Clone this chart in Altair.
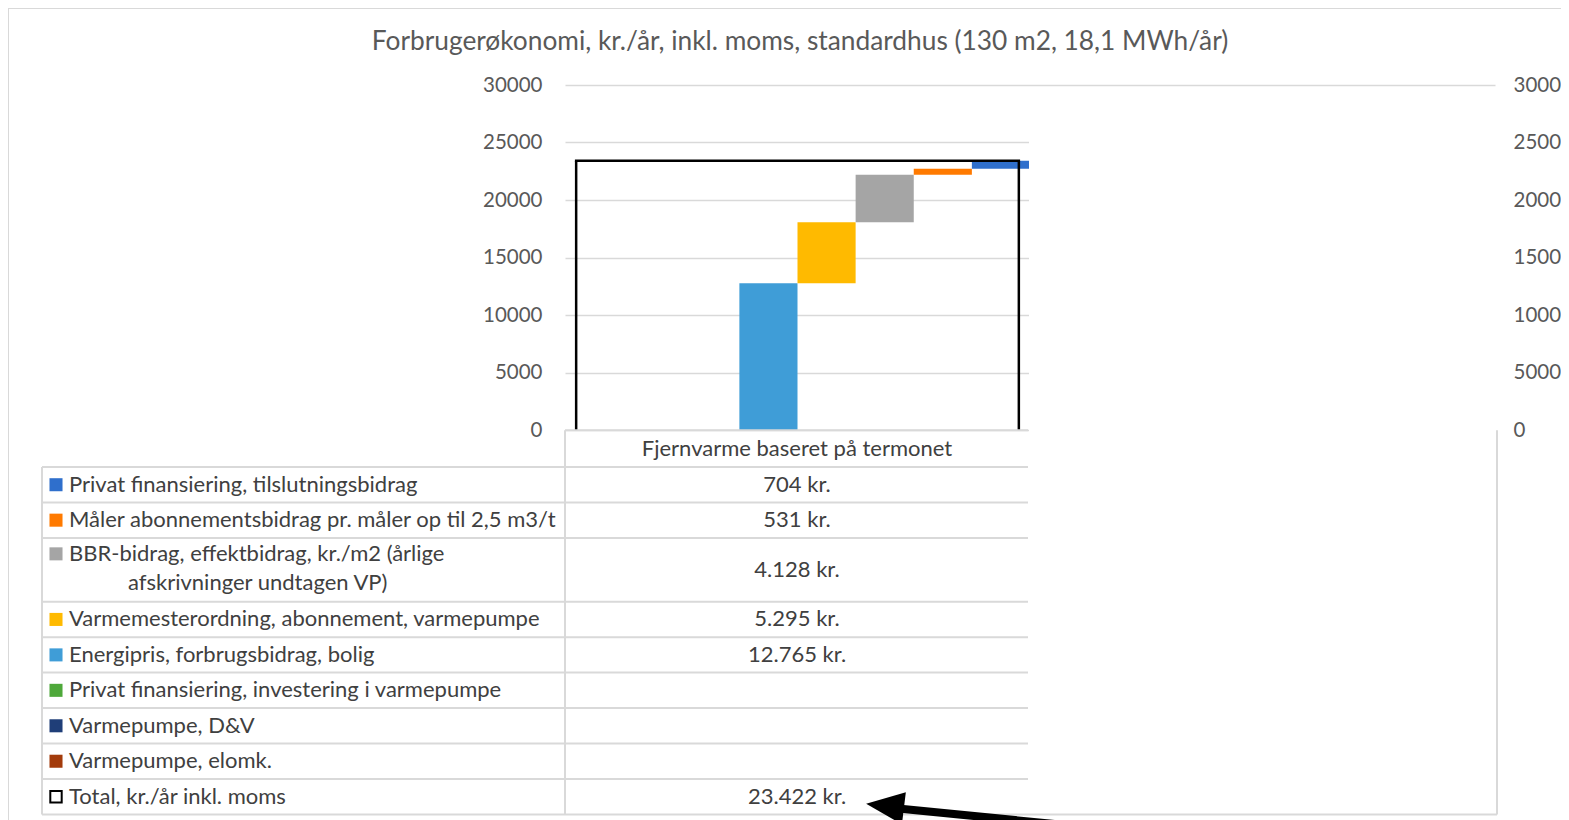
import altair as alt
import pandas as pd

# ---------------- data ----------------
chart_title = "Forbrugerøkonomi, kr./år, inkl. moms, standardhus (130 m2, 18,1 MWh/år)"
category = "Fjernvarme baseret på termonet"

series = [
    "Privat finansiering, tilslutningsbidrag",
    "Måler abonnementsbidrag pr. måler op til 2,5 m3/t",
    "BBR-bidrag, effektbidrag, kr./m2 (årlige afskrivninger undtagen VP)",
    "Varmemesterordning, abonnement, varmepumpe",
    "Energipris, forbrugsbidrag, bolig",
    "Privat finansiering, investering i varmepumpe",
    "Varmepumpe, D&V",
    "Varmepumpe, elomk.",
]
label_line1 = [
    "Privat finansiering, tilslutningsbidrag",
    "Måler abonnementsbidrag pr. måler op til 2,5 m3/t",
    "BBR-bidrag, effektbidrag, kr./m2 (årlige",
    "Varmemesterordning, abonnement, varmepumpe",
    "Energipris, forbrugsbidrag, bolig",
    "Privat finansiering, investering i varmepumpe",
    "Varmepumpe, D&V",
    "Varmepumpe, elomk.",
]
label_line2 = ["", "", "afskrivninger undtagen VP)", "", "", "", "", ""]
values = [704, 531, 4128, 5295, 12765, None, None, None]
total_label = "Total, kr./år inkl. moms"
total_value = 23422
y_ticks = [0, 5000, 10000, 15000, 20000, 25000, 30000]

# ---------------- styles / layout ----------------
colors = ["#2F6FCC", "#FF7A00", "#A5A5A5", "#FFBA00", "#3F9DD7", "#4EA83A", "#1F3E78", "#A33B0B"]
FONT = "Lato"
AXIS_TXT = "#595959"
TBL_TXT = "#404040"
LINE = "#D9D9D9"
TBL_FS = 22
W, H = 930, 345
PAD = {"left": 557, "top": 77, "right": 66, "bottom": 390}

row_units = [1, 1, 1.8, 1, 1, 1, 1, 1, 1]
UNIT_PX = 35.45
TBL_TOP = 382
HEADER_U = -1.04

x_main = alt.Scale(domain=[0, 2], nice=False, zero=False)
y_main = alt.Scale(domain=[0, 30000], nice=False, zero=False)
x_px = alt.Scale(domain=[0, W], range=[0, W], nice=False, zero=False)
tot_u = sum(row_units)
y_tbl = alt.Scale(domain=[0, tot_u], range=[TBL_TOP, TBL_TOP + tot_u * UNIT_PX], nice=False, zero=False)

# ---------------- derived tables ----------------
bar_rows = []
base = 0
n = len(series)
for slot, idx in enumerate(reversed(range(n))):
    v = values[idx]
    if v is None:
        continue
    bar_rows.append(dict(series=series[idx], x0=slot / n, x1=(slot + 1) / n, y0=base, y1=base + v))
    base += v
bars_df = pd.DataFrame(bar_rows)

box_df = pd.DataFrame([dict(xl=0.024, xr=0.976, y0=0, y1=total_value)])

bounds = [0]
for r in row_units:
    bounds.append(bounds[-1] + r)


def kr(v):
    return f"{v:,}".replace(",", ".") + " kr."


tbl_rows = []
for i, s in enumerate(series):
    c = (bounds[i] + bounds[i + 1]) / 2
    two = label_line2[i] != ""
    tbl_rows.append(dict(
        series=s, line1=label_line1[i], line2=label_line2[i],
        u_label=c - 0.45 if two else c, u_line2=c + 0.37, u_center=c,
        value_txt=kr(values[i]) if values[i] is not None else "",
    ))
tbl_df = pd.DataFrame(tbl_rows)
tot_center = (bounds[-2] + bounds[-1]) / 2
total_df = pd.DataFrame([dict(label=total_label, u=tot_center, value_txt=kr(total_value))])
line2_df = tbl_df[tbl_df["line2"] != ""]

seg = []
for b in bounds:
    seg.append(dict(x1=-523, x2=463, u1=b, u2=b))
seg.append(dict(x1=0, x2=463, u1=HEADER_U, u2=HEADER_U))
seg.append(dict(x1=463, x2=932, u1=bounds[-1], u2=bounds[-1]))
seg.append(dict(x1=-523, x2=-523, u1=0, u2=bounds[-1]))
seg.append(dict(x1=0, x2=0, u1=HEADER_U, u2=bounds[-1]))
seg.append(dict(x1=932, x2=932, u1=HEADER_U, u2=bounds[-1]))
seg_df = pd.DataFrame(seg)

one = pd.DataFrame({"a": [0]})
header_df = pd.DataFrame([dict(label=category, u=HEADER_U / 2)])

color_scale = alt.Scale(domain=series, range=colors)

# ---------------- layers ----------------
frame = alt.Chart(one).mark_rule(color=LINE, strokeWidth=2).encode(
    x=alt.value(-557), x2=alt.value(1010), y=alt.value(-77)
)
frame_l = alt.Chart(one).mark_rule(color=LINE, strokeWidth=2).encode(
    x=alt.value(-557), y=alt.value(-77), y2=alt.value(740)
)

bars = alt.Chart(bars_df).mark_rect().encode(
    x=alt.X("x0:Q", scale=x_main, axis=None),
    x2="x1:Q",
    y=alt.Y("y0:Q", scale=y_main, axis=alt.Axis(
        orient="left", values=y_ticks, format="d", title=None, grid=True,
        gridColor=LINE, gridWidth=1.5, ticks=False, tickSize=0, domain=False,
        labelPadding=23, labelFont=FONT, labelFontSize=20.5, labelColor=AXIS_TXT,
    )),
    y2="y1:Q",
    color=alt.Color("series:N", scale=color_scale, legend=None),
)

right_axis = alt.Chart(bars_df).mark_rule(opacity=0).encode(
    y=alt.Y("y0:Q", scale=y_main, axis=alt.Axis(
        orient="right", values=y_ticks, format="d", title=None, grid=False,
        ticks=False, tickSize=0, domain=False,
        labelPadding=18, labelFont=FONT, labelFontSize=20.5, labelColor=AXIS_TXT,
    )),
)

box_l = alt.Chart(box_df).mark_rule(color="black", strokeWidth=2.5).encode(
    x=alt.X("xl:Q", scale=x_main, axis=None), y=alt.Y("y0:Q", scale=y_main, axis=None), y2="y1:Q"
)
box_r = alt.Chart(box_df).mark_rule(color="black", strokeWidth=2.5).encode(
    x=alt.X("xr:Q", scale=x_main, axis=None), y=alt.Y("y0:Q", scale=y_main, axis=None), y2="y1:Q"
)
box_t = alt.Chart(box_df).mark_rule(color="black", strokeWidth=2.5, strokeCap="square").encode(
    x=alt.X("xl:Q", scale=x_main, axis=None), x2="xr:Q", y=alt.Y("y1:Q", scale=y_main, axis=None)
)

mask = alt.Chart(one).mark_rect(color="white", opacity=1).encode(
    x=alt.value(464), x2=alt.value(932), y=alt.value(33), y2=alt.value(728)
)

tbl_lines = alt.Chart(seg_df).mark_rule(color=LINE, strokeWidth=2).encode(
    x=alt.X("x1:Q", scale=x_px, axis=None), x2="x2:Q",
    y=alt.Y("u1:Q", scale=y_tbl, axis=None), y2="u2:Q",
)

header = alt.Chart(header_df).mark_text(
    font=FONT, fontSize=TBL_FS, color=TBL_TXT, align="center", baseline="middle"
).encode(x=alt.value(232), y=alt.Y("u:Q", scale=y_tbl, axis=None), text="label:N")

squares = alt.Chart(tbl_df).mark_square(size=170, opacity=1).encode(
    x=alt.value(-509), y=alt.Y("u_label:Q", scale=y_tbl, axis=None),
    color=alt.Color("series:N", scale=color_scale, legend=None),
)
labels = alt.Chart(tbl_df).mark_text(
    font=FONT, fontSize=TBL_FS, color=TBL_TXT, align="left", baseline="middle"
).encode(x=alt.value(-496), y=alt.Y("u_label:Q", scale=y_tbl, axis=None), text="line1:N")
labels2 = alt.Chart(line2_df).mark_text(
    font=FONT, fontSize=TBL_FS, color=TBL_TXT, align="left", baseline="middle"
).encode(x=alt.value(-437), y=alt.Y("u_line2:Q", scale=y_tbl, axis=None), text="line2:N")
vals = alt.Chart(tbl_df).mark_text(
    font=FONT, fontSize=TBL_FS, color=TBL_TXT, align="center", baseline="middle"
).encode(x=alt.value(232), y=alt.Y("u_center:Q", scale=y_tbl, axis=None), text="value_txt:N")

tot_sq = alt.Chart(total_df).mark_square(size=130, fill="white", stroke="black", strokeWidth=2, opacity=1).encode(
    x=alt.value(-509), y=alt.Y("u:Q", scale=y_tbl, axis=None)
)
tot_lab = alt.Chart(total_df).mark_text(
    font=FONT, fontSize=TBL_FS, color=TBL_TXT, align="left", baseline="middle"
).encode(x=alt.value(-496), y=alt.Y("u:Q", scale=y_tbl, axis=None), text="label:N")
tot_val = alt.Chart(total_df).mark_text(
    font=FONT, fontSize=TBL_FS, color=TBL_TXT, align="center", baseline="middle"
).encode(x=alt.value(232), y=alt.Y("u:Q", scale=y_tbl, axis=None), text="value_txt:N")

shaft = alt.Chart(one).mark_rule(color="black", strokeWidth=8).encode(
    x=alt.value(328), y=alt.value(723), x2=alt.value(530), y2=alt.value(743)
)
head = alt.Chart(one).mark_point(
    shape="M-1,0L1,-0.85L1,0.85Z", size=1444, angle=7, filled=True, color="black", opacity=1
).encode(x=alt.value(320), y=alt.value(721))

title = alt.Chart(one).mark_text(
    font=FONT, fontSize=26.3, color=AXIS_TXT, align="center", baseline="middle"
).encode(x=alt.value(235), y=alt.value(-43), text=alt.value(chart_title))

chart = alt.layer(
    frame, frame_l, bars, right_axis, box_l, box_r, box_t, mask, tbl_lines, header,
    squares, labels, labels2, vals, tot_sq, tot_lab, tot_val, shaft, head, title,
).resolve_scale(x="independent", y="independent", color="shared").properties(
    width=W, height=H, padding=PAD, autosize=alt.AutoSizeParams(type="none"),
    background="white",
).configure_view(stroke=None)

chart.save("out.html", embed_options={"renderer": "svg", "actions": False})
